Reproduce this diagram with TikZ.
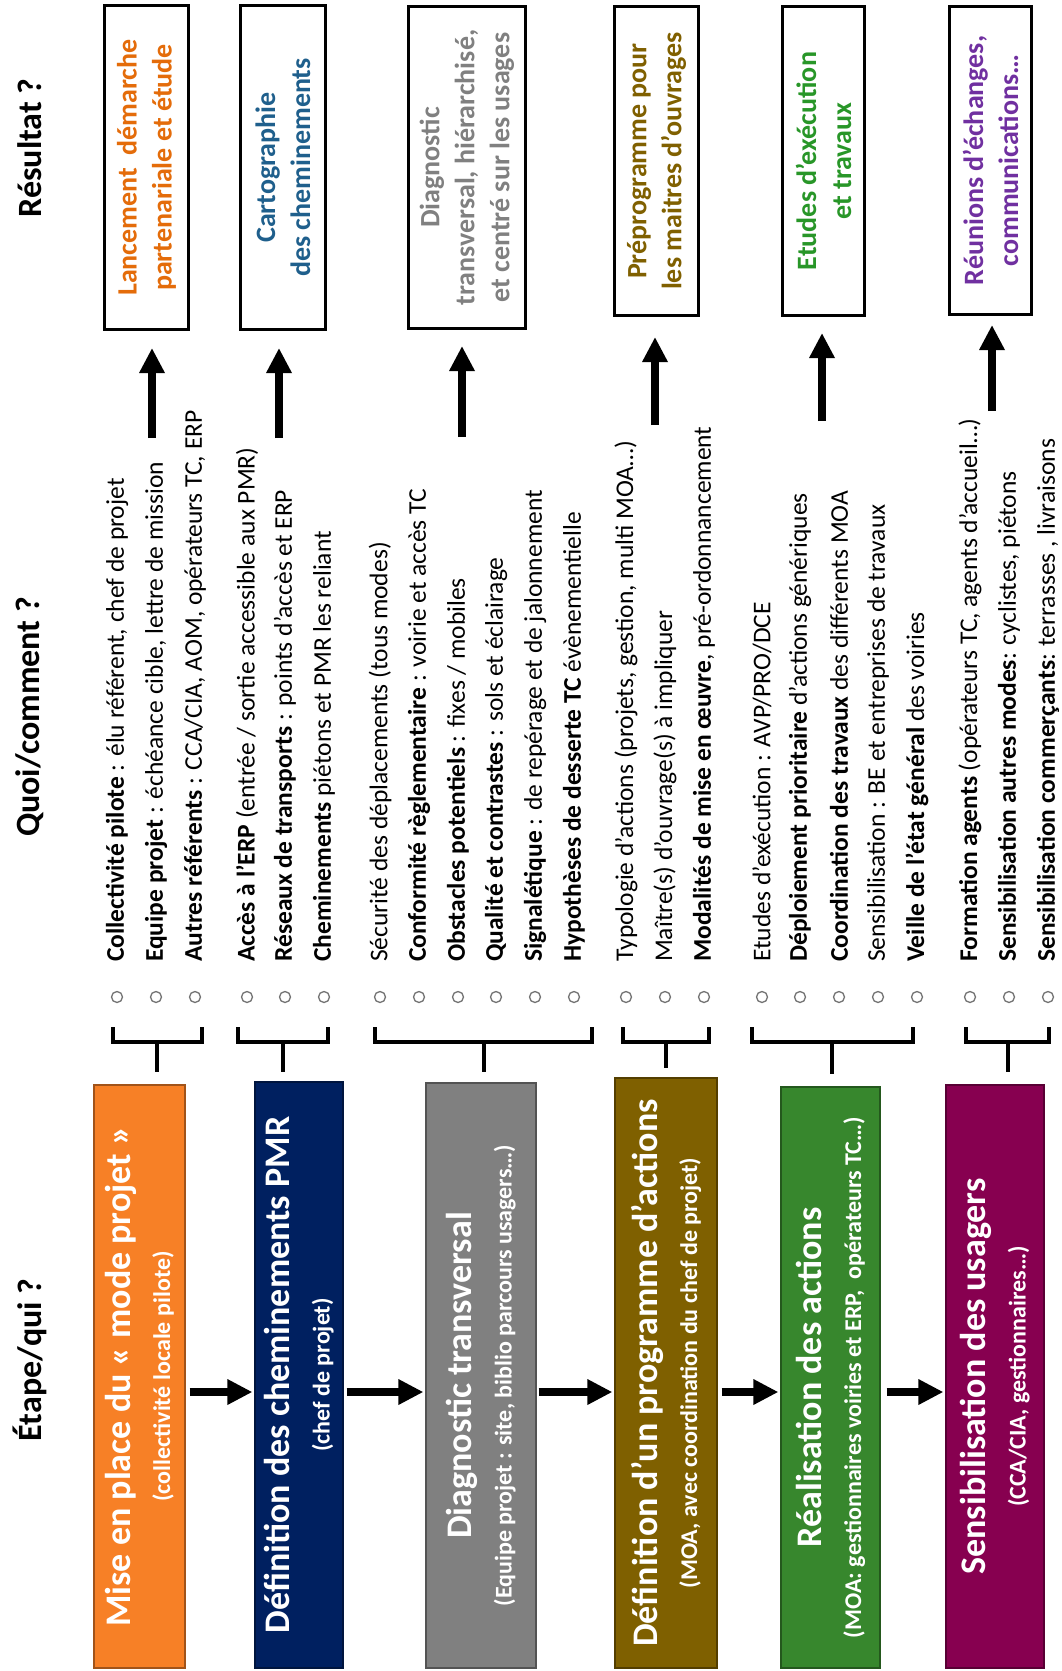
\documentclass[tikz,border=0pt]{standalone}
\usepackage{fontspec}
\setmainfont{Carlito}
\usetikzlibrary{arrows.meta}
\definecolor{corange}{RGB}{247,128,38}
\definecolor{cnavy}{RGB}{0,32,96}
\definecolor{cgray}{RGB}{128,128,128}
\definecolor{cbrown}{RGB}{127,96,0}
\definecolor{cgreen}{RGB}{55,135,45}
\definecolor{cpurple}{RGB}{135,0,80}
\definecolor{torange}{RGB}{228,108,10}
\definecolor{tblue}{RGB}{31,95,140}
\definecolor{tgray}{RGB}{128,128,128}
\definecolor{tgold}{RGB}{128,96,0}
\definecolor{tgreen}{RGB}{40,150,40}
\definecolor{tpurple}{RGB}{112,48,160}
\begin{document}
\begin{tikzpicture}[x=1pt,y=-1pt,
  heading/.style={rotate=90,inner sep=0,font=\bfseries\fontsize{34}{40}\selectfont},
  stepbox/.style={rotate=90,draw=#1!65!black,fill=#1,line width=1.2pt,text=white,align=center,inner sep=0,
    font=\bfseries\fontsize{24}{40}\selectfont},
  resbox/.style={rotate=90,draw=black,fill=white,line width=3pt,align=center,inner sep=0,
    font=\bfseries\fontsize{28}{35}\selectfont},
  item/.style={rotate=90,anchor=west,inner sep=0,font=\fontsize{25.5}{30}\selectfont},
  bul/.style={circle,draw=black!55,line width=1.3pt,minimum size=11pt,inner sep=0},
  brace/.style={line width=3.5pt,line join=miter},
  bigarrow/.style={line width=8.5pt,-{Triangle[length=25pt,width=24pt]}}
]
\useasboundingbox (0,0) rectangle (1061,1671);
\fill[white] (0,0) rectangle (1061,1671);

% headings
\node[heading] (hres) at (30,148) {Résultat ?};
\node[heading] (hquoi) at (30,717) {Quoi/comment ?};
\node[heading] (hetape) at (30,1360) {Étape/qui ?};

% step boxes
\node[stepbox=corange,minimum width=583,minimum height=91] (s1) at (139.5,1376.5)
  {{\fontsize{36}{40}\selectfont Mise en place du « mode projet »}\\(collectivité locale pilote)};
\node[stepbox=cnavy,minimum width=586,minimum height=88] (s2) at (299,1375)
  {{\fontsize{36}{40}\selectfont Définition des cheminements PMR}\\(chef de projet)};
\node[stepbox=cgray,minimum width=585,minimum height=110] (s3) at (481,1375.5)
  {{\fontsize{36}{40}\selectfont Diagnostic transversal}\\(Equipe projet : site, biblio parcours usagers…)};
\node[stepbox=cbrown,minimum width=590,minimum height=102] (s4) at (666,1373)
  {{\fontsize{36}{40}\selectfont Définition d’un programme d’actions}\\(MOA, avec coordination du chef de projet)};
\node[stepbox=cgreen,minimum width=581,minimum height=99] (s5) at (830.5,1377.5)
  {{\fontsize{36}{40}\selectfont Réalisation des actions}\\(MOA: gestionnaires voiries et ERP,\ \ opérateurs TC…)};
\node[stepbox=cpurple,minimum width=583,minimum height=98] (s6) at (995,1376.5)
  {{\fontsize{36}{40}\selectfont Sensibilisation des usagers}\\(CCA/CIA, gestionnaires…)};

% horizontal arrows between steps
\draw[bigarrow,shorten <=4pt,shorten >=2pt] (s1.south |- 0,1392) -- (s2.north |- 0,1392);
\draw[bigarrow,shorten <=3pt,shorten >=2pt] (s2.south |- 0,1392) -- (s3.north |- 0,1392);
\draw[bigarrow,shorten <=2pt,shorten >=2pt] (s3.south |- 0,1392) -- (s4.north |- 0,1392);
\draw[bigarrow,shorten <=4pt,shorten >=2pt] (s4.south |- 0,1392) -- (s5.north |- 0,1392);
\draw[bigarrow,shorten <=6pt,shorten >=2pt] (s5.south |- 0,1392) -- (s6.north |- 0,1392);

% braces
\draw[brace] (113,1027) -- (113,1042) -- (202,1042) -- (202,1027) (157,1042) -- (157,1072);
\draw[brace] (238,1027) -- (238,1042) -- (328,1042) -- (328,1027) (283,1042) -- (283,1072);
\draw[brace] (375,1027) -- (375,1042) -- (592,1042) -- (592,1027) (484,1042) -- (484,1072);
\draw[brace] (623,1027) -- (623,1042) -- (709,1042) -- (709,1027) (666,1042) -- (666,1068);
\draw[brace] (752,1027) -- (752,1042) -- (913,1042) -- (913,1027) (832,1042) -- (832,1074);
\draw[brace] (966,1027) -- (966,1042) -- (1049,1042) -- (1049,1027) (1008,1042) -- (1008,1072);

% bullets
\foreach \n/\x in {b1a/117,b1b/156,b1c/195,b2a/247,b2b/285,b2c/324,
  b3a/380,b3b/419,b3c/458,b3d/496,b3e/535,b3f/574,b4a/626,b4b/665,b4c/704,
  b5a/762,b5b/800,b5c/839,b5d/878,b5e/917,b6a/970,b6b/1009,b6c/1048}
  \node[bul] (\n) at (\x,997) {};

% items
\node[item] (i1a) at (117,962) {\textbf{Collectivité pilote} : élu référent, chef de projet};
\node[item] (i1b) at (156,962) {\textbf{Equipe projet} : échéance cible, lettre de mission};
\node[item] (i1c) at (195,962) {\textbf{Autres référents} : CCA/CIA, AOM, opérateurs TC, ERP};
\node[item] (i2a) at (247,962) {\textbf{Accès à l’ERP} (entrée / sortie accessible aux PMR)};
\node[item] (i2b) at (285,962) {\textbf{Réseaux de transports} : points d’accès et ERP};
\node[item] (i2c) at (324,962) {\textbf{Cheminements} piétons et PMR les reliant};
\node[item] (i3a) at (380,962) {Sécurité des déplacements (tous modes)};
\node[item] (i3b) at (419,962) {\textbf{Conformité règlementaire} : voirie et accès TC};
\node[item] (i3c) at (458,962) {\textbf{Obstacles potentiels} : fixes / mobiles};
\node[item] (i3d) at (496,962) {\textbf{Qualité et contrastes} : sols et éclairage};
\node[item] (i3e) at (535,962) {\textbf{Signalétique} : de repérage et de jalonnement};
\node[item] (i3f) at (574,962) {\textbf{Hypothèses de desserte TC} évènementielle};
\node[item] (i4a) at (626,962) {Typologie d’actions (projets, gestion, multi MOA…)};
\node[item] (i4b) at (665,962) {Maître(s) d’ouvrage(s) à impliquer};
\node[item] (i4c) at (704,962) {\textbf{Modalités de mise en œuvre}, pré-ordonnancement};
\node[item] (i5a) at (762,962) {Etudes d’exécution : AVP/PRO/DCE};
\node[item] (i5b) at (800,962) {\textbf{Déploiement prioritaire} d’actions génériques};
\node[item] (i5c) at (839,962) {\textbf{Coordination des travaux} des différents MOA};
\node[item] (i5d) at (878,962) {Sensibilisation : BE et entreprises de travaux};
\node[item] (i5e) at (917,962) {\textbf{Veille de l’état général} des voiries};
\node[item] (i6a) at (970,962) {\textbf{Formation agents} (opérateurs TC, agents d’accueil…)};
\node[item] (i6b) at (1009,962) {\textbf{Sensibilisation autres modes}: cyclistes, piétons};
\node[item] (i6c) at (1048,962) {\textbf{Sensibilisation commerçants}: terrasses , livraisons};

% result boxes
\node[resbox,text=torange,minimum width=324,minimum height=84] (r1) at (146.5,167.5)
  {Lancement\ \ démarche\\partenariale et étude};
\node[resbox,text=tblue,minimum width=324,minimum height=85] (r2) at (283,167.5)
  {Cartographie\\des cheminements};
\node[resbox,text=tgray,minimum width=322,minimum height=117] (r3) at (467,167.5)
  {Diagnostic\\transversal, hiérarchisé,\\et centré sur les usages};
\node[resbox,text=tgold,minimum width=309,minimum height=84] (r4) at (656.5,161)
  {Préprogramme pour\\les maitres d’ouvrages};
\node[resbox,text=tgreen,minimum width=309,minimum height=82] (r5) at (823.5,161)
  {Etudes d’exécution\\et travaux};
\node[resbox,text=tpurple,minimum width=308,minimum height=82] (r6) at (990.5,160.5)
  {Réunions d’échanges,\\communications…};

% vertical arrows
\coordinate (t1) at (152,438);
\coordinate (t2) at (279,438);
\coordinate (t3) at (462,437);
\coordinate (t4) at (655,425);
\coordinate (t5) at (822,421);
\coordinate (t6) at (992,411);
\draw[bigarrow,shorten >=17pt] (t1) -- (t1 |- r1.west);
\draw[bigarrow,shorten >=17pt] (t2) -- (t2 |- r2.west);
\draw[bigarrow,shorten >=16pt] (t3) -- (t3 |- r3.west);
\draw[bigarrow,shorten >=20pt] (t4) -- (t4 |- r4.west);
\draw[bigarrow,shorten >=16pt] (t5) -- (t5 |- r5.west);
\draw[bigarrow,shorten >=9pt] (t6) -- (t6 |- r6.west);
\end{tikzpicture}
\end{document}
